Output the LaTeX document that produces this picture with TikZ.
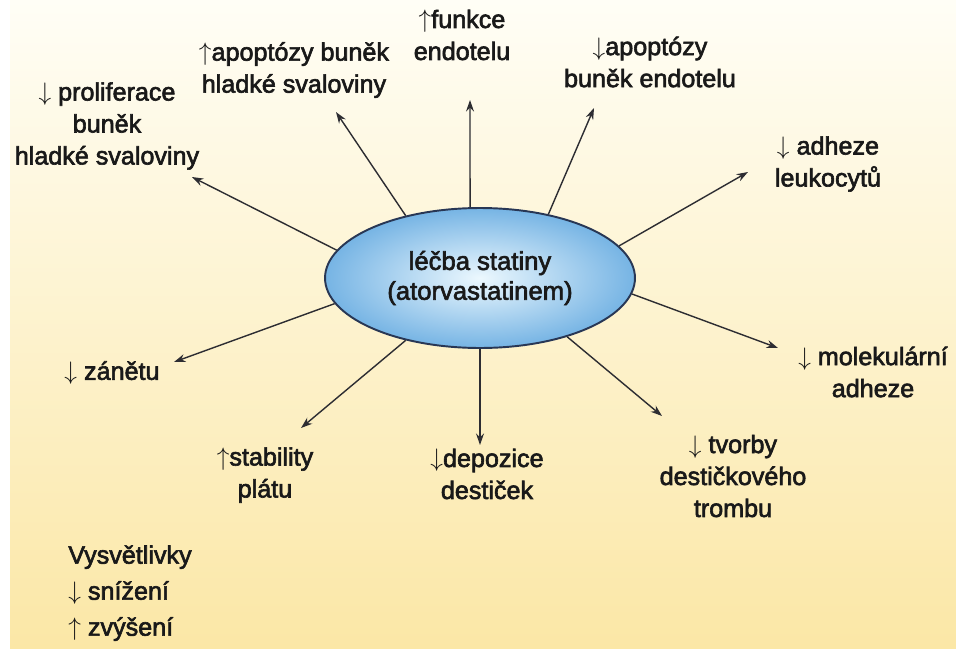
\documentclass[tikz,border=0pt]{standalone}
\usepackage{fontspec}
\setmainfont{Liberation Sans}[FakeBold=2.4]
\usepackage{tikz}
\usetikzlibrary{
  arrows.meta,
  shapes.geometric
}
\usepackage{xcolor}
\definecolor{bgtop}{RGB}{255, 254, 246}
\definecolor{bgmid}{RGB}{253, 245, 212}
\definecolor{bgbot}{RGB}{251, 231, 166}
\definecolor{ellin}{RGB}{236, 248, 254}
\definecolor{ellout}{RGB}{118, 180, 228}
\definecolor{elldraw}{RGB}{40, 55, 85}
\definecolor{rayclr}{RGB}{45, 45, 50}
\definecolor{txtclr}{RGB}{25, 25, 25}
% sipky ve textu
\newcommand{\dolu}{$\downarrow$}
\newcommand{\nahoru}{$\uparrow$}
\tikzset{
  % stredni elipsa
  centerell/.style = {ellipse, draw=elldraw, line width=1.1pt,
                      inner color=ellin, outer color=ellout,
                      minimum width=6.2cm, minimum height=2.8cm, inner sep=0pt,
                      align=center, text=txtclr,
                      font=\fontsize{14.6}{17}\selectfont},
  % sipky ven
  effline/.style   = {-{Stealth[length=6.5pt, width=4.5pt]}, line width=0.8pt, rayclr},
  % popisky ucinku
  efflab/.style    = {align=center, text=txtclr, inner sep=1pt,
                      font=\fontsize{14.3}{18.2}\selectfont},
  % vysvetlivky
  legendlab/.style = {align=left, text=txtclr, inner sep=0pt, anchor=north west,
                      font=\fontsize{14.3}{16.5}\selectfont},
}

\begin{document}
\begin{tikzpicture}[x=0.02cm, y=-0.02cm]
  \useasboundingbox (0,0) rectangle (956,659);
  % pozadi
  \fill[white] (0,0) rectangle (956,659);
  \shade[top color=bgtop, middle color=bgmid, bottom color=bgbot]
    (10,0) rectangle (956,648);
  % stred
  \node[centerell] (stat) at (480,278) {léčba statiny\\(atorvastatinem)};
  % popisky
  \node[efflab] (prolif) at (107,126) {\dolu{} proliferace\\buněk\\hladké svaloviny};
  \node[efflab] (apoptH) at (294,70)  {\nahoru apoptózy buněk\\hladké svaloviny};
  \node[efflab] (funkce) at (462,35)  {\nahoru funkce\\endotelu};
  \node[efflab] (apoptE) at (650,62)  {\dolu apoptózy\\buněk endotelu};
  \node[efflab] (adhL)   at (828,164) {\dolu{} adheze\\leukocytů};
  \node[efflab] (molAdh) at (873,372) {\dolu{} molekulární\\adheze};
  \node[efflab] (trombus) at (733,476) {\dolu{} tvorby\\destičkového\\trombu};
  \node[efflab] (depoz)  at (487,474) {\dolu depozice\\destiček};
  \node[efflab] (stabil) at (265,475) {\nahoru stability\\plátu};
  \node[efflab] (zanet)  at (112,373) {\dolu{} zánětu};
  % konce sipek
  \coordinate (tProlif) at (192,177);
  \coordinate (tApoptH) at (336,112);
  \coordinate (tFunkce) at (470,100);
  \coordinate (tApoptE) at (594,108);
  \coordinate (tAdhL)   at (748,172);
  \coordinate (tMolAdh) at (778,348);
  \coordinate (tTrombus) at (662,416);
  \coordinate (tDepoz)  at (480,445);
  \coordinate (tStabil) at (301,428);
  \coordinate (tZanet)  at (174,362);
  % sipky
  \draw[effline] (stat.169) -- (tProlif);
  \draw[effline] (stat.140) -- (tApoptH);
  \draw[effline] (stat.98)  -- (tFunkce);
  \draw[effline] (stat.43)  -- (tApoptE);
  \draw[effline] (stat.13)  -- (tAdhL);
  \draw[effline] (stat.-6)  -- (tMolAdh);
  \draw[effline] (stat.-34) -- (tTrombus);
  \draw[effline] (stat.-90) -- (tDepoz);
  \draw[effline] (stat.-140) -- (tStabil);
  \draw[effline] (stat.-170) -- (tZanet);
  % vysvetlivky
  \node[legendlab] (legenda) at (68,545) {Vysvětlivky\\[4pt]\dolu{} snížení\\[4pt]\nahoru{} zvýšení};
\end{tikzpicture}
\end{document}
